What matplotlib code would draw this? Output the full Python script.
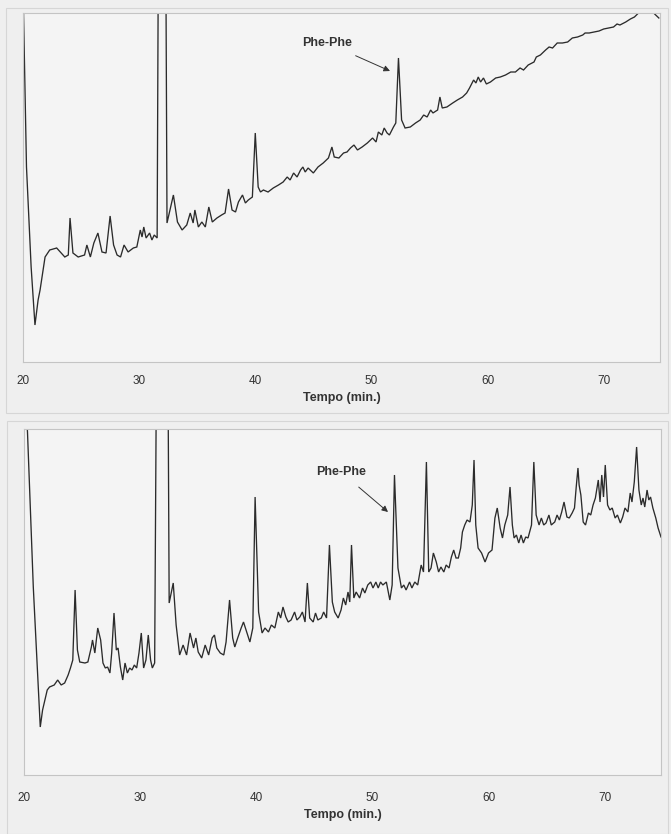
import matplotlib
matplotlib.use("Agg")
import matplotlib.pyplot as plt
from matplotlib.patches import Rectangle

# retention time (min) and detector signal (arbitrary units)
top_time = [20.0, 20.05, 20.3, 20.7, 21.03, 21.3, 21.47, 21.9, 22.3, 22.9, 23.6, 23.9,
            24.05, 24.3, 24.75, 25.3, 25.5, 25.8, 26.1, 26.45, 26.8, 27.15, 27.5, 27.8,
            28.1, 28.4, 28.7, 29.05, 29.5, 29.8, 30.1, 30.25, 30.4, 30.6, 30.9, 31.1,
            31.3, 31.55, 31.65, 32.3, 32.4, 32.95, 33.3, 33.7, 34.1, 34.4, 34.65, 34.8,
            35.1, 35.4, 35.7, 36.0, 36.3, 36.7, 37.1, 37.4, 37.7, 38.0, 38.3, 38.55,
            38.9, 39.15, 39.4, 39.75, 40.0, 40.25, 40.45, 40.7, 41.1, 41.55, 42.0, 42.4,
            42.75, 43.0, 43.3, 43.6, 43.9, 44.1, 44.3, 44.55, 45.0, 45.4, 45.85, 46.3,
            46.6, 46.8, 47.2, 47.6, 47.9, 48.2, 48.5, 48.8, 49.2, 49.65, 50.1, 50.4,
            50.6, 50.9, 51.1, 51.35, 51.55, 51.9, 52.1, 52.33, 52.6, 52.9, 53.35, 53.8,
            54.2, 54.5, 54.8, 55.1, 55.3, 55.7, 55.9, 56.1, 56.5, 57.0, 57.4, 57.85,
            58.2, 58.45, 58.8, 59.0, 59.2, 59.4, 59.65, 59.9, 60.25, 60.7, 61.1, 61.55,
            62.0, 62.4, 62.8, 63.1, 63.5, 64.0, 64.2, 64.55, 65.0, 65.3, 65.6, 66.0,
            66.45, 66.9, 67.3, 67.75, 68.2, 68.4, 68.75, 69.2, 69.6, 70.0, 70.45, 70.85,
            71.15, 71.4, 71.9, 72.3, 72.65, 73.0, 73.6, 74.3, 74.75]
top_signal = [400, 346, 195, 95, 37, 62, 72, 105, 112, 114, 105, 107,
              144, 109, 105, 107, 117, 105, 119, 129, 110, 109, 146, 117,
              107, 105, 117, 110, 114, 115, 132, 125, 135, 124, 129, 122,
              127, 124, 400, 400, 139, 167, 140, 132, 137, 149, 139, 152,
              135, 140, 135, 155, 140, 144, 147, 149, 173, 152, 150, 160,
              167, 159, 162, 165, 229, 175, 170, 172, 170, 174, 177, 180,
              185, 182, 189, 185, 192, 195, 190, 194, 189, 195, 199, 204,
              215, 205, 204, 209, 210, 214, 217, 212, 215, 219, 224, 220,
              230, 227, 234, 229, 227, 235, 239, 304, 242, 234, 235, 239,
              242, 247, 245, 252, 249, 252, 265, 254, 255, 259, 262, 265,
              269, 274, 282, 279, 285, 280, 284, 278, 280, 284, 285, 287,
              290, 290, 294, 292, 297, 300, 305, 307, 312, 315, 314, 319,
              319, 320, 324, 325, 327, 329, 329, 330, 331, 333, 334, 335,
              338, 337, 340, 343, 345, 349, 380, 349, 344]

bottom_time = [20.0, 20.3, 20.8, 21.4, 21.6, 22.0, 22.2, 22.6, 22.9, 23.2, 23.5, 23.8,
               24.0, 24.2, 24.4, 24.6, 24.8, 25.25, 25.5, 25.8, 25.9, 26.1, 26.35, 26.6,
               26.8, 27.0, 27.2, 27.4, 27.55, 27.75, 27.95, 28.1, 28.3, 28.5, 28.7, 28.9,
               29.1, 29.3, 29.5, 29.7, 29.9, 30.1, 30.3, 30.5, 30.7, 30.9, 31.05, 31.25,
               31.4, 32.4, 32.5, 32.85, 33.1, 33.4, 33.7, 34.0, 34.3, 34.6, 34.8, 35.0,
               35.3, 35.6, 35.9, 36.2, 36.4, 36.6, 36.9, 37.2, 37.4, 37.7, 37.97, 38.15,
               38.4, 38.7, 38.9, 39.2, 39.45, 39.7, 39.9, 40.2, 40.5, 40.75, 41.05, 41.3,
               41.6, 41.9, 42.1, 42.3, 42.55, 42.75, 43.0, 43.3, 43.5, 43.75, 43.97, 44.2,
               44.4, 44.6, 44.9, 45.1, 45.3, 45.6, 45.8, 46.05, 46.3, 46.55, 46.75, 47.05,
               47.3, 47.5, 47.7, 47.9, 48.05, 48.2, 48.4, 48.6, 48.9, 49.15, 49.35, 49.6,
               49.85, 50.05, 50.3, 50.5, 50.7, 50.9, 51.2, 51.5, 51.7, 51.9, 52.2, 52.5,
               52.7, 52.9, 53.2, 53.4, 53.65, 53.9, 54.2, 54.4, 54.65, 54.85, 55.05, 55.25,
               55.5, 55.7, 55.9, 56.15, 56.35, 56.6, 56.8, 57.0, 57.2, 57.4, 57.6, 57.75,
               57.95, 58.15, 58.4, 58.6, 58.75, 58.9, 59.1, 59.4, 59.7, 60.0, 60.3, 60.55,
               60.75, 61.0, 61.2, 61.4, 61.65, 61.85, 62.05, 62.2, 62.4, 62.6, 62.8, 63.0,
               63.2, 63.4, 63.7, 63.9, 64.1, 64.35, 64.55, 64.75, 64.95, 65.2, 65.4, 65.7,
               65.9, 66.1, 66.3, 66.5, 66.75, 66.95, 67.2, 67.4, 67.55, 67.7, 67.8, 67.95,
               68.15, 68.35, 68.6, 68.8, 69.0, 69.2, 69.45, 69.6, 69.75, 69.9, 70.05, 70.25,
               70.45, 70.65, 70.9, 71.1, 71.35, 71.55, 71.75, 72.0, 72.2, 72.35, 72.55, 72.75,
               72.95, 73.15, 73.3, 73.45, 73.65, 73.8, 73.95, 74.15, 74.4, 74.6, 74.85]
bottom_signal = [400, 343, 188, 48, 65, 85, 88, 90, 95, 90, 92, 100,
                 107, 115, 185, 125, 113, 112, 113, 128, 135, 122, 147, 135,
                 112, 107, 108, 102, 122, 162, 125, 127, 108, 95, 112, 102,
                 107, 105, 110, 107, 122, 142, 107, 115, 140, 115, 107, 112,
                 400, 400, 172, 192, 150, 120, 130, 120, 142, 127, 137, 123,
                 117, 130, 120, 137, 140, 127, 122, 120, 133, 175, 137, 128,
                 137, 147, 153, 142, 133, 147, 278, 163, 142, 147, 143, 150,
                 147, 163, 157, 168, 158, 153, 155, 163, 155, 158, 163, 153,
                 192, 157, 153, 162, 155, 157, 163, 157, 230, 173, 163, 157,
                 165, 177, 170, 183, 173, 230, 177, 183, 177, 187, 182, 190,
                 193, 187, 193, 187, 193, 190, 193, 175, 190, 300, 207, 187,
                 190, 185, 193, 187, 193, 190, 210, 203, 313, 203, 207, 222,
                 213, 203, 208, 203, 210, 207, 218, 225, 217, 217, 227, 243,
                 250, 255, 253, 270, 315, 250, 227, 222, 213, 222, 225, 257,
                 267, 247, 237, 250, 260, 288, 250, 237, 240, 232, 240, 232,
                 238, 237, 250, 313, 260, 250, 257, 250, 252, 260, 250, 253,
                 260, 255, 263, 273, 258, 257, 262, 267, 288, 307, 290, 280,
                 253, 250, 262, 260, 270, 277, 295, 273, 300, 278, 310, 270,
                 265, 267, 257, 260, 252, 258, 267, 263, 282, 273, 293, 328,
                 285, 270, 277, 268, 285, 275, 278, 267, 257, 247, 238]

tick_values = [20, 30, 40, 50, 60, 70]
tick_labels = ["20", "30", "40", "50", "60", "70"]
x_label = "Tempo (min.)"
peak_name = "Phe-Phe"

W, H = 671, 834
PAPER = "#efefef"
INK = "#2b2b2b"
FRAME = "#c4c4c4"

plt.rcParams["font.family"] = ["Liberation Sans", "DejaVu Sans"]

fig = plt.figure(figsize=(W / 100, H / 100), dpi=100, facecolor=PAPER)


def px_axes(left, top, right, bottom):
    # axes rectangle given in picture pixels
    return fig.add_axes([left / W, 1 - bottom / H, (right - left) / W, (bottom - top) / H])


# faint frames of the scanned figures
for (x0, y0, x1, y1) in [(6, 8, 668, 413), (7, 421, 668, 834)]:
    fig.patches.append(Rectangle((x0 / W, 1 - y1 / H), (x1 - x0) / W, (y1 - y0) / H,
                                 transform=fig.transFigure, fill=False,
                                 edgecolor="#d6d6d6", linewidth=0.8))

# axes box, y top, tick pad, label position, arrow tip (pixels)
panels = [
    (px_axes(23, 13, 660, 362), top_time, top_signal, 349, 9, (327, 43), (390, 71)),
    (px_axes(24, 429, 661, 775), bottom_time, bottom_signal, 346, 12, (341, 472), (388, 512)),
]

for ax, t, s, ytop, pad, lab_px, tip_px in panels:
    ax.set_facecolor("#f4f4f4")
    ax.plot(t, s, color=INK, linewidth=0.95, solid_joinstyle="miter")
    ax.set_xlim(20, 74.85)
    ax.set_ylim(0, ytop)
    ax.set_yticks([])
    ax.set_xticks(tick_values)
    ax.set_xticklabels(tick_labels)
    ax.tick_params(axis="x", length=0, pad=pad, labelsize=8.5, labelcolor="#333333")
    ax.set_xlabel(x_label, fontsize=9, fontweight="bold", color="#333333", labelpad=4)
    for sp in ax.spines.values():
        sp.set_color(FRAME)
        sp.set_linewidth(0.8)

    lab = (lab_px[0] / W, 1 - lab_px[1] / H)
    tip = (tip_px[0] / W, 1 - tip_px[1] / H)
    ax.annotate(peak_name, xy=tip, xycoords="figure fraction",
                xytext=lab, textcoords="figure fraction",
                ha="center", va="center", fontsize=9, fontweight="bold", color="#333333",
                arrowprops=dict(arrowstyle="-|>", color="#333333", lw=0.7,
                                mutation_scale=9, shrinkA=7, shrinkB=0))

fig.savefig("out.png", dpi=100, facecolor=PAPER)
